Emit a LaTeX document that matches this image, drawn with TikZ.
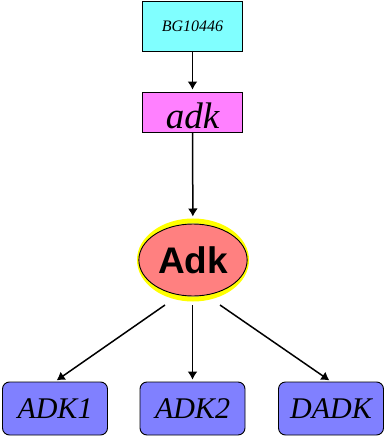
\documentclass[tikz,border=0pt]{standalone}
\usepackage{fontspec}
\setmainfont{Liberation Serif}
\newfontfamily\headfont{Liberation Sans}
\usetikzlibrary{arrows.meta,shapes.geometric}
\definecolor{genecyan}{HTML}{80FFFF}
\definecolor{genepink}{HTML}{FF80FF}
\definecolor{protred}{HTML}{FF8080}
\definecolor{protring}{HTML}{FFFF00}
\definecolor{formblue}{HTML}{8080FF}
\begin{document}
\begin{tikzpicture}[x=1pt,y=-1pt,
  plainbox/.style={draw=black, line width=0.9pt, minimum width=100pt, inner sep=0pt, font=\itshape},
  formbox/.style={draw=black, line width=0.9pt, rounded corners=7pt, fill=formblue,
    minimum width=105pt, minimum height=53pt, inner sep=0pt, font=\itshape\fontsize{30}{32}\selectfont},
  link/.style={-{Latex[length=8pt,width=10pt]}, line width=1.5pt, shorten >=2pt}]
\useasboundingbox (0,0) rectangle (386,438);
% gene record and gene
\node[plainbox, fill=genecyan, minimum height=50pt, font=\itshape\fontsize{16}{18}\selectfont] (bg) at (192.5,26) {BG10446};
\node[plainbox, fill=genepink, minimum height=40pt, text height=34pt, text depth=0pt,
  font=\itshape\fontsize{37}{39}\selectfont] (gene) at (192.5,112) {adk};
% protein
\node[ellipse, draw=protring, line width=5pt, minimum width=107pt, minimum height=78pt] (ring) at (193,260) {};
\node[ellipse, draw=black, fill=protred, line width=0.9pt, minimum width=100pt, minimum height=72pt,
  font=\headfont\bfseries\fontsize{37}{40}\selectfont] (prot) at (193,260) {Adk};
% protein forms
\node[formbox] (f1) at (55,408.5) {ADK1};
\node[formbox] (f2) at (192.5,408.5) {ADK2};
\node[formbox] (f3) at (331,408.5) {DADK};
% connectors
\draw[link] (bg) -- (gene);
\draw[link] (gene) -- (ring);
\coordinate (s1) at (165,305);
\coordinate (s2) at (192.5,305);
\coordinate (s3) at (220,305);
\draw[link] (s1) -- (f1.north);
\draw[link] (s2) -- (f2);
\draw[link] (s3) -- (f3.north);
\end{tikzpicture}
\end{document}
